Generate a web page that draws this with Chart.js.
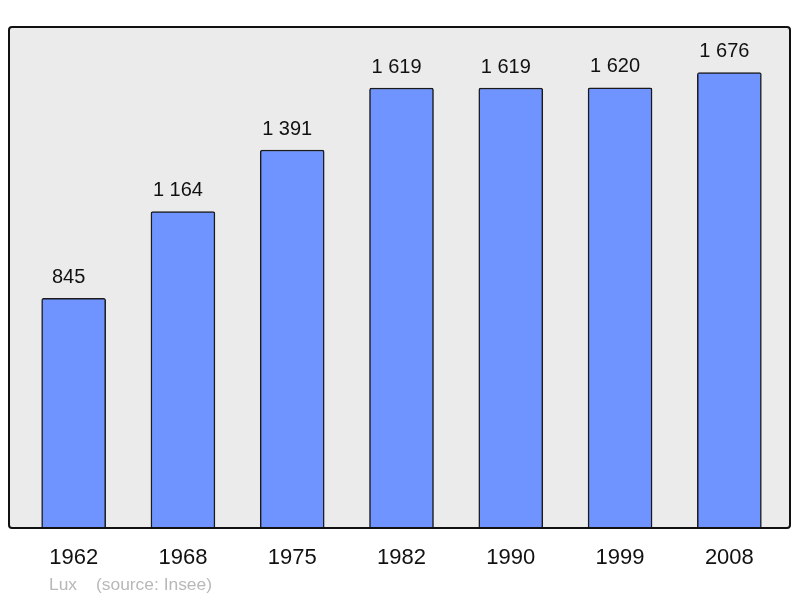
<!DOCTYPE html>
<html>
<head>
<meta charset="utf-8">
<script src="https://cdn.jsdelivr.net/npm/chart.js@4/dist/chart.umd.min.js"></script>
<style>
    html, body { margin: 0; padding: 0; background: #ffffff; }
    #wrap { position: relative; width: 800px; height: 598px; }
</style>
</head>
<body>
<div id="wrap"><canvas id="popChart" width="800" height="598"></canvas></div>
<script>
const years = ['1962', '1968', '1975', '1982', '1990', '1999', '2008'];
const population = [845, 1164, 1391, 1619, 1619, 1620, 1676];
const footerName = 'Lux';
const footerSource = '(source: Insee)';

const FONT = '"Liberation Sans", Arial, sans-serif';

// thousands separated by a space, like "1 619"
function formatNumber(v) {
    return String(v).replace(/\B(?=(\d{3})+(?!\d))/g, ' ');
}

function roundRect(ctx, x, y, w, h, r) {
    ctx.beginPath();
    ctx.moveTo(x + r, y);
    ctx.lineTo(x + w - r, y);
    ctx.arcTo(x + w, y, x + w, y + r, r);
    ctx.lineTo(x + w, y + h - r);
    ctx.arcTo(x + w, y + h, x + w - r, y + h, r);
    ctx.lineTo(x + r, y + h);
    ctx.arcTo(x, y + h, x, y + h - r, r);
    ctx.lineTo(x, y + r);
    ctx.arcTo(x, y, x + r, y, r);
    ctx.closePath();
}

// grey framed panel behind the bars, value labels and footer
const framePlugin = {
    id: 'frame',
    beforeDatasetsDraw(chart) {
        const { ctx, chartArea } = chart;
        const x = chartArea.left - 10, w = chartArea.right + 6 - x;
        ctx.save();
        roundRect(ctx, x, chartArea.top, w, chartArea.bottom - chartArea.top, 3);
        ctx.fillStyle = '#ebebeb';
        ctx.fill();
        ctx.restore();
    },
    afterDatasetsDraw(chart) {
        const { ctx, chartArea } = chart;
        const x = chartArea.left - 10, w = chartArea.right + 6 - x;
        ctx.save();
        roundRect(ctx, x, chartArea.top, w, chartArea.bottom - chartArea.top, 3);
        ctx.lineWidth = 2;
        ctx.strokeStyle = '#111111';
        ctx.stroke();

        // values above bars (sitting a little left of the bar centre)
        const meta = chart.getDatasetMeta(0);
        ctx.font = '20px ' + FONT;
        ctx.fillStyle = '#111111';
        ctx.textAlign = 'center';
        ctx.textBaseline = 'middle';
        meta.data.forEach((bar, i) => {
            ctx.fillText(formatNumber(population[i]), bar.x - 5, bar.y - 21);
        });

        // footer
        ctx.font = '17.4px ' + FONT;
        ctx.fillStyle = '#b8b8b8';
        ctx.textAlign = 'left';
        ctx.fillText(footerName, 49, 585);
        ctx.fillText(footerSource, 96, 585);
        ctx.restore();
    }
};

new Chart(document.getElementById('popChart').getContext('2d'), {
    type: 'bar',
    data: {
        labels: years,
        datasets: [{
            data: population,
            backgroundColor: '#7094ff',
            borderColor: '#1a1a1a',
            borderWidth: 1.5,
            borderRadius: 2,
            borderSkipped: 'bottom',
            barThickness: 64
        }]
    },
    options: {
        responsive: false,
        animation: false,
        layout: {
            padding: { left: 19, right: 16, top: 27, bottom: 0 }
        },
        plugins: {
            legend: { display: false },
            tooltip: { enabled: false }
        },
        scales: {
            x: {
                grid: { display: false, drawTicks: false },
                border: { display: false },
                ticks: {
                    color: '#111111',
                    font: { family: FONT, size: 22 },
                    padding: 17,
                    maxRotation: 0
                },
                afterFit(scale) { scale.height = 70; }
            },
            y: {
                display: false,
                min: 0,
                max: Math.max(...population) * 1.1
            }
        }
    },
    plugins: [framePlugin]
});
</script>
</body>
</html>
